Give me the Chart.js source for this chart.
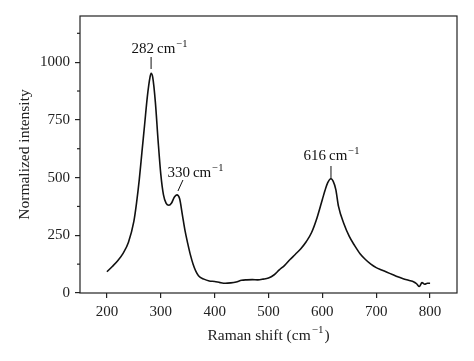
<!DOCTYPE html>
<html>
<head>
    <title>Raman</title>
    <script src="https://cdn.jsdelivr.net/npm/chart.js"></script>
    <style>
        body { margin: 0; background: #fff; }
        #wrap { width: 474px; height: 361px; }
    </style>
</head>
<body>
    <div id="wrap"><canvas id="ramanChart" width="474" height="361"></canvas></div>
    <script>
        // Datos
        var shift = [200, 210, 220, 230, 240, 250, 255, 260, 265, 270, 275, 280, 282, 285, 290, 295, 300, 305, 310, 315, 320, 325,
            330, 335, 340, 345, 350, 355, 360, 365, 370, 380, 390, 400, 410, 420, 430, 440, 450, 460, 470, 480,
            490, 500, 510, 520, 530, 540, 550, 560, 570, 580, 590, 600, 605, 610, 616, 620, 625, 630, 640, 650,
            660, 670, 680, 690, 700, 710, 720, 730, 740, 750, 760, 770, 775, 780, 785, 790, 795, 800];
        var intensity = [92, 115, 140, 172, 220, 310, 390, 490, 610, 730, 850, 935, 952, 935, 825, 660, 515, 425, 388, 380, 390, 415,
            425, 408, 340, 270, 215, 165, 125, 95, 75, 60, 52, 50, 45, 42, 44, 48, 55, 57, 58, 57,
            60, 65, 78, 100, 120, 145, 168, 192, 222, 262, 325, 405, 445, 478, 495, 485, 448, 375, 300, 245,
            205, 170, 145, 125, 110, 100, 90, 80, 70, 62, 55, 48, 40, 28, 45, 38, 42, 42];

        var xTicks = [200, 300, 400, 500, 600, 700, 800];
        var yTicks = [0, 250, 500, 750, 1000];
        var yMinorTicks = [125, 375, 625, 875, 1125];

        // Etiquetas de picos
        var peakShift = [282, 330, 616];
        var peakLabel = ['282', '330', '616'];

        var serif = '"Liberation Serif", "DejaVu Serif", serif';

        function drawCm(ctx, num, x, y, size) {
            // dibuja "num cm^-1" centrado con superindice
            ctx.font = size + 'px ' + serif;
            var main = num + '\u2009cm';
            var w1 = ctx.measureText(main).width;
            ctx.font = (size * 0.7) + 'px ' + serif;
            var w2 = ctx.measureText('\u22121').width;
            var x0 = x - (w1 + w2) / 2;
            ctx.textAlign = 'left';
            ctx.textBaseline = 'alphabetic';
            ctx.font = size + 'px ' + serif;
            ctx.fillText(main, x0, y);
            ctx.font = (size * 0.7) + 'px ' + serif;
            ctx.fillText('\u22121', x0 + w1 + 1, y - size * 0.4);
        }

        var extras = {
            id: 'extras',
            afterDraw: function (chart) {
                var ctx = chart.ctx;
                var a = chart.chartArea;
                var xs = chart.scales.x, ys = chart.scales.y;
                ctx.save();
                ctx.strokeStyle = '#222';
                ctx.lineWidth = 1.2;
                ctx.strokeRect(a.left, a.top, a.right - a.left, a.bottom - a.top);

                // ticks menores del eje y
                yMinorTicks.forEach(function (v) {
                    var py = ys.getPixelForValue(v);
                    ctx.beginPath();
                    ctx.moveTo(a.left - 3, py);
                    ctx.lineTo(a.left, py);
                    ctx.stroke();
                });

                ctx.fillStyle = '#111';
                ctx.strokeStyle = '#111';
                ctx.lineWidth = 1;

                // 282
                var px = xs.getPixelForValue(peakShift[0]);
                drawCm(ctx, peakLabel[0], px + 8, 53, 15);
                ctx.beginPath();
                ctx.moveTo(px, 57); ctx.lineTo(px, 69); ctx.stroke();

                // 330
                px = xs.getPixelForValue(peakShift[1]);
                drawCm(ctx, peakLabel[1], px + 18, 177, 15);
                ctx.beginPath();
                ctx.moveTo(px + 6, 180); ctx.lineTo(px + 1, 191); ctx.stroke();

                // 616
                px = xs.getPixelForValue(peakShift[2]);
                drawCm(ctx, peakLabel[2], px, 160, 15);
                ctx.beginPath();
                ctx.moveTo(px, 166); ctx.lineTo(px, 179); ctx.stroke();

                // titulo eje x
                ctx.fillStyle = '#222';
                ctx.font = '15.5px ' + serif;
                var t1 = 'Raman shift (cm';
                var w1 = ctx.measureText(t1).width;
                ctx.font = '11px ' + serif;
                var w2 = ctx.measureText('\u22121').width;
                ctx.font = '15.5px ' + serif;
                var w3 = ctx.measureText(')').width;
                var cx = (a.left + a.right) / 2;
                var x0 = cx - (w1 + w2 + w3 + 2) / 2;
                ctx.textAlign = 'left';
                ctx.textBaseline = 'alphabetic';
                ctx.fillText(t1, x0, 340);
                ctx.font = '11px ' + serif;
                ctx.fillText('\u22121', x0 + w1 + 1, 333);
                ctx.font = '15.5px ' + serif;
                ctx.fillText(')', x0 + w1 + w2 + 2, 340);

                // titulo eje y
                ctx.translate(25, (a.top + a.bottom) / 2);
                ctx.rotate(-Math.PI / 2);
                ctx.textAlign = 'center';
                ctx.textBaseline = 'middle';
                ctx.font = '15.5px ' + serif;
                ctx.fillText('Normalized intensity', 0, 0);
                ctx.restore();
            }
        };

        var ctx = document.getElementById('ramanChart').getContext('2d');
        var points = shift.map(function (s, i) { return { x: s, y: intensity[i] }; });

        var ramanChart = new Chart(ctx, {
            type: 'line',
            data: {
                datasets: [{
                    data: points,
                    borderColor: '#111',
                    borderWidth: 1.6,
                    pointRadius: 0,
                    fill: false,
                    cubicInterpolationMode: 'monotone'
                }]
            },
            options: {
                responsive: false,
                animation: false,
                events: [],
                layout: { padding: { top: 16, right: 17, left: 0, bottom: 0 } },
                plugins: { legend: { display: false }, tooltip: { enabled: false } },
                scales: {
                    x: {
                        type: 'linear',
                        min: 150,
                        max: 850,
                        afterBuildTicks: function (axis) {
                            axis.ticks = xTicks.map(function (v) { return { value: v }; });
                        },
                        afterFit: function (axis) { axis.height = 68; },
                        border: { display: false },
                        grid: { drawOnChartArea: false, drawTicks: true, tickLength: 5, color: '#222', lineWidth: 1.2 },
                        ticks: {
                            color: '#222', font: { family: serif, size: 15 }, padding: 5, maxRotation: 0,
                            callback: function (v) { return String(v); }
                        }
                    },
                    y: {
                        min: 0,
                        max: 1200,
                        afterBuildTicks: function (axis) {
                            axis.ticks = yTicks.map(function (v) { return { value: v }; });
                        },
                        afterFit: function (axis) { axis.width = 80; },
                        border: { display: false },
                        grid: { drawOnChartArea: false, drawTicks: true, tickLength: 5, color: '#222', lineWidth: 1.2 },
                        ticks: {
                            color: '#222', font: { family: serif, size: 15 }, padding: 5,
                            callback: function (v) { return String(v); }
                        }
                    }
                }
            },
            plugins: [extras]
        });
    </script>
</body>
</html>
